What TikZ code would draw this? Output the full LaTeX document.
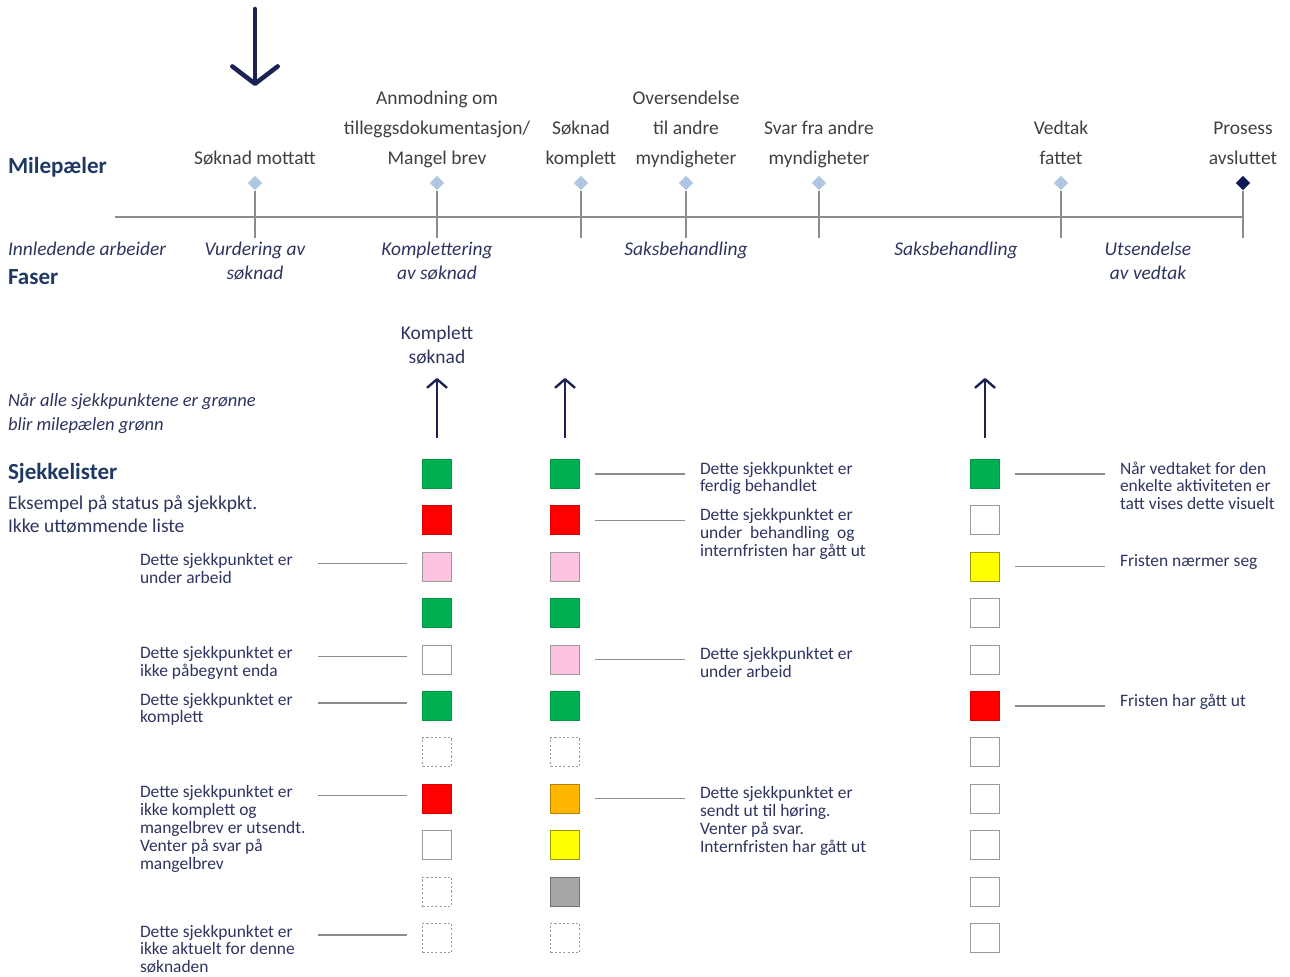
\documentclass[tikz,border=0pt]{standalone}
\usepackage{fontspec}
\setmainfont{Carlito}
\usetikzlibrary{shapes.geometric,arrows.meta,calc}

\definecolor{navy}{HTML}{1C2354}
\definecolor{headc}{HTML}{1F3864}
\definecolor{txtc}{HTML}{2E3460}
\definecolor{msc}{HTML}{404040}
\definecolor{linec}{HTML}{8C8C8C}
\definecolor{diac}{HTML}{AFC6E2}
\definecolor{diadark}{HTML}{0D1A5A}
\definecolor{cgreen}{HTML}{00B050}
\definecolor{cred}{HTML}{FF0000}
\definecolor{cpink}{HTML}{FCC4E0}
\definecolor{cyellow}{HTML}{FFFF00}
\definecolor{corange}{HTML}{FFB700}
\definecolor{cgrey}{HTML}{A6A6A6}
\definecolor{edgec}{HTML}{9A9A9A}

% multi-line text blocks aligned on their first or last baseline
\newcommand\topl[1]{\begin{tabular}[t]{@{}l@{}}#1\end{tabular}}
\newcommand\topc[1]{\begin{tabular}[t]{@{}c@{}}#1\end{tabular}}
\newcommand\botc[1]{\begin{tabular}[b]{@{}c@{}}#1\end{tabular}}

\tikzset{
  txt/.style={inner sep=0pt, outer sep=0pt},
  mslabel/.style={txt, anchor=base, text=msc, font=\fontsize{14.6}{22.5}\selectfont},
  phase/.style={txt, anchor=base, text=txtc, font=\fontsize{14.6}{18}\selectfont\itshape},
  heading/.style={txt, anchor=base west, text=headc, font=\fontsize{17.3}{20}\selectfont\bfseries},
  subtext/.style={txt, anchor=base west, text=txtc, font=\fontsize{14.6}{17.25}\selectfont},
  note/.style={txt, anchor=base west, text=txtc, font=\fontsize{13.9}{18}\selectfont\itshape},
  small/.style={txt, anchor=base west, text=txtc, font=\fontsize{13.1}{13.4}\selectfont},
  milestone/.style={diamond, fill=diac, inner sep=0pt, minimum size=11pt},
  lastmilestone/.style={diamond, fill=diadark, inner sep=0pt, minimum size=11pt},
  timeline/.style={draw=linec, line width=2pt},
  tick/.style={draw=linec, line width=1pt},
  conn/.style={draw=linec, line width=0.9pt},
  bigarrow/.style={draw=navy, line width=3.4pt, line cap=round,
    -{Straight Barb[length=13pt, width=34pt, line cap=round, line join=round]}},
  uparrow/.style={draw=navy, line width=1.8pt,
    -{Straight Barb[length=6.5pt, width=15pt, line join=round]}},
  sq/.style={rectangle, minimum size=21.8pt, inner sep=0pt, line width=0.8pt},
  sqgreen/.style={sq, fill=cgreen, draw=cgreen!85!black},
  sqred/.style={sq, fill=cred, draw=cred!85!black},
  sqpink/.style={sq, fill=cpink, draw=edgec},
  sqwhite/.style={sq, fill=white, draw=edgec},
  sqdash/.style={sq, fill=white, draw=edgec, dash pattern=on 1.6pt off 1.6pt},
  sqyellow/.style={sq, fill=cyellow, draw=cyellow!60!black},
  sqorange/.style={sq, fill=corange, draw=corange!70!black},
  sqgrey/.style={sq, fill=cgrey, draw=cgrey!70!black},
}

\begin{document}
\begin{tikzpicture}[x=0.75pt, y=-0.75pt]
\useasboundingbox (0,0) rectangle (1290,976);

% ---------------- start arrow ----------------
\coordinate (startTop) at (255,9);
\coordinate (startTip) at (255,86);
\draw[bigarrow] (startTop) -- (startTip);

% ---------------- time line with milestones ----------------
\coordinate (tlStart) at (115,217);
\node[milestone] (m1) at (255,183) {};
\node[milestone] (m2) at (437,183) {};
\node[milestone] (m3) at (581,183) {};
\node[milestone] (m4) at (686,183) {};
\node[milestone] (m5) at (819,183) {};
\node[milestone] (m6) at (1061,183) {};
\node[lastmilestone] (m7) at (1243,183) {};
\coordinate (tlEnd) at (1243,217);
\draw[timeline] (tlStart) -- (tlEnd);
\foreach \m in {m1,m2,m3,m4,m5,m6,m7}
  \draw[tick] (\m.south) -- ++(0,47);

% milestone captions
\node[mslabel] (c1) at (255,164) {\botc{Søknad mottatt}};
\node[mslabel] (c2) at (437,164) {\botc{Anmodning om\\tilleggsdokumentasjon/\\Mangel brev}};
\node[mslabel] (c3) at (581,164) {\botc{Søknad\\komplett}};
\node[mslabel] (c4) at (686,164) {\botc{Oversendelse\\til andre\\myndigheter}};
\node[mslabel] (c5) at (819,164) {\botc{Svar fra andre\\myndigheter}};
\node[mslabel] (c6) at (1061,164) {\botc{Vedtak\\fattet}};
\node[mslabel] (c7) at (1243,164) {\botc{Prosess\\avsluttet}};

\node[heading] (hMs) at (8,173) {Milepæler};
\node[heading] (hPh) at (8,284) {Faser};

% phases
\node[phase, anchor=base west] (p0) at (8,255) {Innledende arbeider};
\node[phase] (p1) at (255,255) {\topc{Vurdering av\\søknad}};
\node[phase] (p2) at (437,255) {\topc{Komplettering\\av søknad}};
\node[phase] (p3) at (686,255) {Saksbehandling};
\node[phase] (p4) at (956,255) {Saksbehandling};
\node[phase] (p5) at (1148,255) {\topc{Utsendelse\\av vedtak}};

% ---------------- check lists ----------------
\node[phase, text=txtc, font=\fontsize{14.6}{18}\selectfont] (kompl) at (437,339) {\topc{Komplett\\søknad}};
\node[note] (nNote) at (8,406) {\topl{Når alle sjekkpunktene er grønne\\blir milepælen grønn}};
\node[heading] (hCl) at (8,479) {Sjekkelister};
\node[subtext] (sub) at (8,509) {\topl{Eksempel på status på sjekkpkt.\\Ikke uttømmende liste}};

% columns of check points
\foreach \s [count=\i] in {sqgreen,sqred,sqpink,sqgreen,sqwhite,sqgreen,sqdash,sqred,sqwhite,sqdash,sqdash}
  \node[\s] (a\i) at (437,{474+46.4*(\i-1)}) {};
\foreach \s [count=\i] in {sqgreen,sqred,sqpink,sqgreen,sqpink,sqgreen,sqdash,sqorange,sqyellow,sqgrey,sqdash}
  \node[\s] (b\i) at (565,{474+46.4*(\i-1)}) {};
\foreach \s [count=\i] in {sqgreen,sqwhite,sqyellow,sqwhite,sqwhite,sqred,sqwhite,sqwhite,sqwhite,sqwhite,sqwhite}
  \node[\s] (d\i) at (985,{474+46.4*(\i-1)}) {};

% arrows from the lists up to the milestones
\coordinate (ua) at (437,378);
\coordinate (ub) at (565,378);
\coordinate (ud) at (985,378);
\draw[uparrow] ($(a1.north)+(0,-21)$) -- (ua);
\draw[uparrow] ($(b1.north)+(0,-21)$) -- (ub);
\draw[uparrow] ($(d1.north)+(0,-21)$) -- (ud);

% explanations, left column
\foreach \r/\t in {3/{Dette sjekkpunktet er\\under arbeid},
                   5/{Dette sjekkpunktet er\\ikke påbegynt enda},
                   6/{Dette sjekkpunktet er\\komplett},
                   8/{Dette sjekkpunktet er\\ikke komplett og\\mangelbrev er utsendt.\\Venter på svar på\\mangelbrev},
                   11/{Dette sjekkpunktet er\\ikke aktuelt for denne\\søknaden}}{
  \node[small] (la\r) at ($(a\r.center)+(-297,-1)$) {\topl{\t}};
  \draw[conn] ($(a\r.west)+(-15,-3)$) -- ($(a\r.west)+(-104,-3)$);
}

% explanations, middle column
\foreach \r/\t in {1/{Dette sjekkpunktet er\\ferdig behandlet},
                   2/{Dette sjekkpunktet er\\under\ \ behandling\ \ og\\internfristen har gått ut},
                   5/{Dette sjekkpunktet er\\under arbeid},
                   8/{Dette sjekkpunktet er\\sendt ut til høring.\\Venter på svar.\\Internfristen har gått ut}}{
  \node[small] (lb\r) at ($(b\r.center)+(135,0)$) {\topl{\t}};
  \draw[conn] ($(b\r.east)+(15,0)$) -- ($(b\r.east)+(105,0)$);
}

% explanations, right column
\foreach \r/\t in {1/{Når vedtaket for den\\enkelte aktiviteten er\\tatt vises dette visuelt},
                   3/{Fristen nærmer seg},
                   6/{Fristen har gått ut}}{
  \node[small] (ld\r) at ($(d\r.center)+(135,0)$) {\topl{\t}};
  \draw[conn] ($(d\r.east)+(15,0)$) -- ($(d\r.east)+(105,0)$);
}
\end{tikzpicture}
\end{document}
